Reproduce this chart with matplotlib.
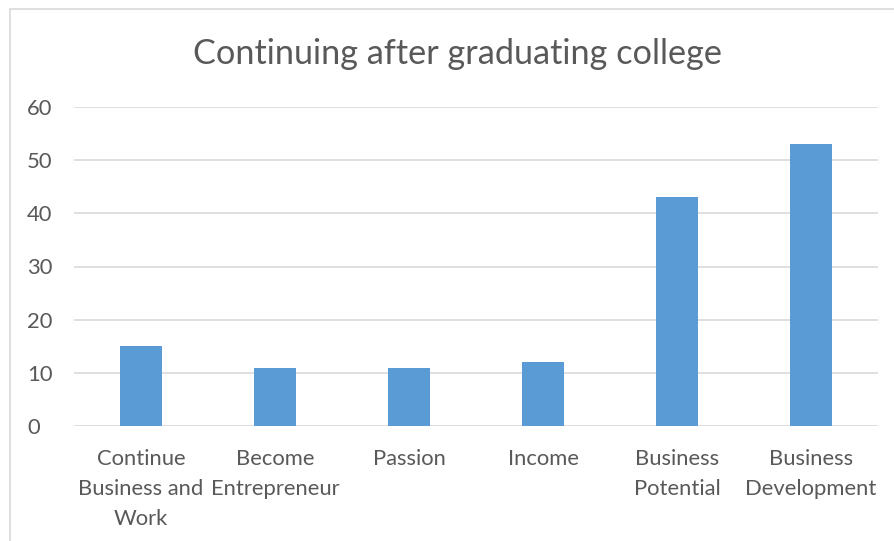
import matplotlib.pyplot as plt
from matplotlib.patches import Rectangle

plt.rcParams['font.family'] = ['Lato', 'DejaVu Sans']

# 資料
categories = ['Continue\nBusiness and\nWork', 'Become\nEntrepreneur', 'Passion', 'Income',
              'Business\nPotential', 'Business\nDevelopment']
values = [15, 11, 11, 12, 43, 53]
yticks = [0, 10, 20, 30, 40, 50, 60]

W, H = 894, 541
fig = plt.figure(figsize=(W / 100, H / 100), dpi=100)

# 外框 (只看得到左邊和上邊)
fig.patches.append(Rectangle((10 / W, -0.1), 1.2, 1.1 - 9 / H, transform=fig.transFigure,
                             fill=False, edgecolor='#d9d9d9', linewidth=1.2))

ax = fig.add_axes([74 / W, 1 - 426 / H, (878 - 74) / W, (426 - 107) / H])
x = range(len(categories))
ax.bar(x, values, width=0.31, color='#5b9bd5', zorder=3)

ax.set_xlim(-0.5, len(categories) - 0.5)
ax.set_ylim(0, 60)
ax.set_yticks(yticks)
ax.set_xticks(list(x))
ax.set_xticklabels(categories, linespacing=1.62)
ax.yaxis.grid(True, color='#d9d9d9', linewidth=1.2, zorder=0)
for s in ax.spines.values():
    s.set_visible(False)
ax.tick_params(axis='both', length=0, colors='#595959', labelsize=15.8)
ax.tick_params(axis='x', pad=16.5)
ax.tick_params(axis='y', pad=33.8)
for lbl in ax.get_yticklabels():
    lbl.set_horizontalalignment('left')

fig.text(458 / W, 1 - 54 / H, 'Continuing after graduating college', ha='center', va='center',
         fontsize=24.7, color='#595959')

fig.savefig('out.png', dpi=100)
